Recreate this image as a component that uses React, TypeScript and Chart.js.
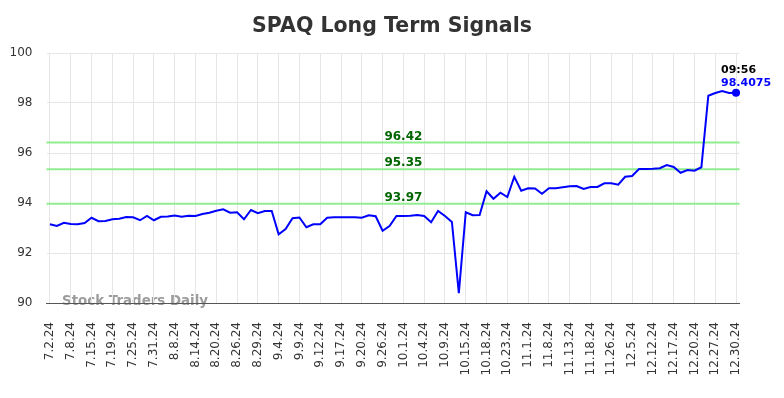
import React, { useEffect, useRef } from 'react';
import { Chart, registerables } from 'chart.js';

Chart.register(...registerables);

// Tick labels shown on the x axis (one every STEP data points)
const tickLabels = [
  '7.2.24', '7.8.24', '7.15.24', '7.19.24', '7.25.24', '7.31.24', '8.8.24', '8.14.24',
  '8.20.24', '8.26.24', '8.29.24', '9.4.24', '9.9.24', '9.12.24', '9.17.24', '9.20.24',
  '9.26.24', '10.1.24', '10.4.24', '10.9.24', '10.15.24', '10.18.24', '10.23.24', '11.1.24',
  '11.8.24', '11.13.24', '11.18.24', '11.26.24', '12.5.24', '12.12.24', '12.17.24', '12.20.24',
  '12.27.24', '12.30.24',
];
const STEP = 3;

// Price series
const prices = [
  93.15, 93.08, 93.21, 93.16, 93.15, 93.2, 93.41, 93.27, 93.28, 93.35,
  93.37, 93.44, 93.43, 93.31, 93.48, 93.31, 93.45, 93.46, 93.5, 93.45,
  93.49, 93.48, 93.56, 93.61, 93.69, 93.75, 93.61, 93.63, 93.35, 93.72,
  93.59, 93.68, 93.68, 92.75, 92.96, 93.39, 93.42, 93.03, 93.15, 93.15,
  93.41, 93.43, 93.43, 93.43, 93.43, 93.41, 93.51, 93.47, 92.89, 93.08,
  93.48, 93.48, 93.49, 93.52, 93.48, 93.23, 93.68, 93.48, 93.24, 90.39,
  93.63, 93.51, 93.52, 94.47, 94.17, 94.41, 94.24, 95.05, 94.49, 94.59,
  94.58, 94.37, 94.59, 94.59, 94.63, 94.67, 94.68, 94.56, 94.64, 94.64,
  94.79, 94.79, 94.73, 95.05, 95.08, 95.36, 95.36, 95.37, 95.39, 95.52,
  95.44, 95.21, 95.32, 95.29, 95.43, 98.29, 98.4, 98.48, 98.4, 98.4075,
];

const signalLevels = [96.42, 95.35, 93.97];
const signalLabelIndex = 51;
const lastTime = '09:56';
const lastValueText = '98.4075';
const yMin = 90;
const yMax = 100;
const yStep = 2;

const labels = prices.map((_, i) => (i % STEP === 0 ? tickLabels[i / STEP] : ''));

const FONT = '"DejaVu Sans", sans-serif';

const overlayPlugin = {
  id: 'overlay',
  beforeDraw(chart: any) {
    const { ctx, chartArea } = chart;
    ctx.save();
    ctx.font = `bold 13.4px ${FONT}`;
    ctx.fillStyle = 'rgba(145,145,145,0.9)';
    ctx.textAlign = 'left';
    ctx.textBaseline = 'middle';
    ctx.fillText('Stock Traders Daily', chartArea.left + 15.5, chartArea.bottom - 1);
    ctx.restore();
  },
  beforeDatasetsDraw(chart: any) {
    const { ctx, chartArea, scales } = chart;
    ctx.save();
    ctx.strokeStyle = '#90ee90';
    ctx.lineWidth = 2;
    signalLevels.forEach((v) => {
      const py = scales.y.getPixelForValue(v);
      ctx.beginPath();
      ctx.moveTo(chartArea.left, py);
      ctx.lineTo(chartArea.right, py);
      ctx.stroke();
    });
    ctx.restore();
  },
  afterDatasetsDraw(chart: any) {
    const { ctx, scales } = chart;
    ctx.save();
    ctx.font = `bold 12px ${FONT}`;
    ctx.fillStyle = '#006400';
    ctx.textAlign = 'center';
    ctx.textBaseline = 'alphabetic';
    const lx = scales.x.getPixelForValue(signalLabelIndex);
    signalLevels.forEach((v) => {
      const py = scales.y.getPixelForValue(v);
      ctx.fillText(v.toFixed(2), lx, py - 3);
    });
    const last = prices.length - 1;
    const px = scales.x.getPixelForValue(last);
    const py = scales.y.getPixelForValue(prices[last]);
    ctx.font = `bold 11px ${FONT}`;
    ctx.textAlign = 'left';
    ctx.fillStyle = '#000000';
    ctx.fillText(lastTime, px - 15, py - 20);
    ctx.fillStyle = '#0000ff';
    ctx.fillText(lastValueText, px - 15, py - 7);
    ctx.restore();
  },
};

export default function App() {
  const ref = useRef<HTMLCanvasElement>(null);
  useEffect(() => {
    document.body.style.margin = '0';
    const chart = new Chart(ref.current as HTMLCanvasElement, {
      type: 'line',
      data: {
        labels,
        datasets: [
          {
            data: prices,
            borderColor: '#0000ff',
            backgroundColor: '#0000ff',
            borderWidth: 2,
            tension: 0,
            fill: false,
            pointRadius: (c: any) => (c.dataIndex === prices.length - 1 ? 4 : 0),
            pointHoverRadius: 0,
            pointBackgroundColor: '#0000ff',
            pointBorderWidth: 0,
          },
        ],
      },
      options: {
        responsive: false,
        animation: false,
        layout: { padding: 0 },
        plugins: {
          legend: { display: false },
          tooltip: { enabled: false },
          title: {
            display: true,
            text: 'SPAQ Long Term Signals',
            color: '#333333',
            font: { family: FONT, size: 20.5, weight: 'bold' },
            padding: { top: 14.5, bottom: 13.9 },
          },
        },
        scales: {
          x: {
            type: 'category',
            offset: true,
            grid: { color: '#e6e6e6', offset: false, drawTicks: false },
            border: { color: '#555555', width: 1 },
            ticks: {
              autoSkip: false,
              minRotation: 90,
              maxRotation: 90,
              padding: 19,
              color: '#333333',
              font: { family: FONT, size: 12 },
            },
            afterBuildTicks: (axis: any) => {
              axis.ticks = axis.ticks.filter((t: any) => t.value % STEP === 0);
            },
            afterFit: (axis: any) => {
              axis.height = 95;
            },
          },
          y: {
            min: yMin,
            max: yMax,
            grid: { color: '#e6e6e6', drawTicks: false },
            border: { display: false },
            ticks: {
              stepSize: yStep,
              padding: 14,
              color: '#333333',
              font: { family: FONT, size: 12 },
            },
            afterFit: (axis: any) => {
              axis.width = 46.5;
            },
          },
          yRightGap: {
            position: 'right',
            min: yMin,
            max: yMax,
            grid: { display: false, drawTicks: false },
            border: { display: false },
            ticks: { display: false },
            afterFit: (axis: any) => {
              axis.width = 44.5;
            },
          },
        },
      },
      plugins: [overlayPlugin],
    } as any);
    return () => chart.destroy();
  }, []);
  return (
    <div style={{ width: 784, height: 398 }}>
      <canvas ref={ref} width={784} height={398} style={{ display: 'block' }} />
    </div>
  );
}
